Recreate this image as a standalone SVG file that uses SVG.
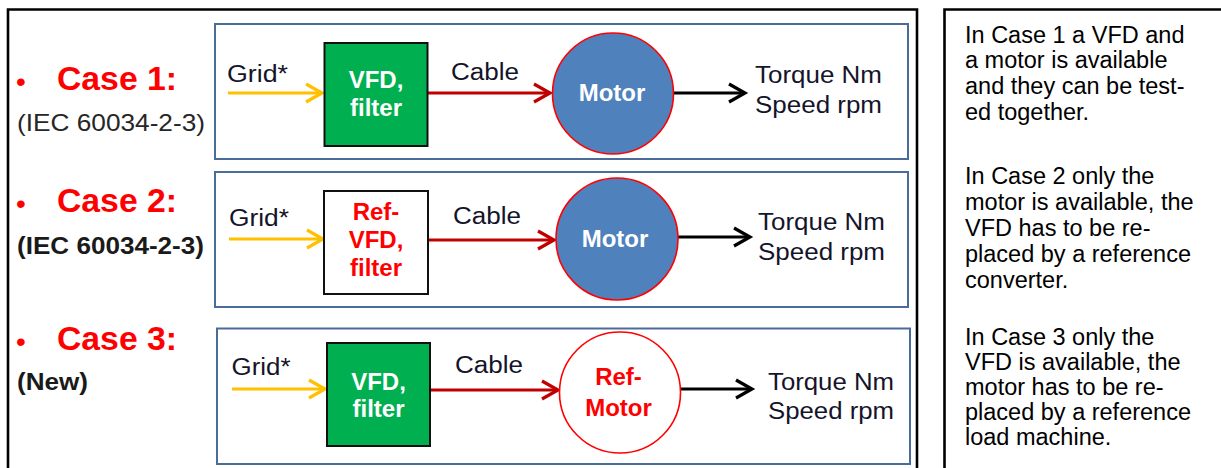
<svg xmlns="http://www.w3.org/2000/svg" width="1221" height="468" viewBox="0 0 1221 468">
<style>
text { font-family: "Liberation Sans", Arial, sans-serif; }
.frame { fill: none; stroke: #000; stroke-width: 2.6; }
.case-box { fill: #fff; stroke: #4A6C9B; stroke-width: 2; }
.vfd { fill: #00B050; stroke: #111; stroke-width: 2; }
.ref-vfd { fill: #fff; stroke: #111; stroke-width: 2; }
.motor { fill: #4F81BD; stroke: #FF0000; stroke-width: 1.6; }
.ref-motor { fill: #fff; stroke: #FF0000; stroke-width: 1.6; }
.case-title { font-size: 33px; font-weight: bold; fill: #FF0000; }
.bullet { font-size: 28px; fill: #FF0000; }
.std { font-size: 24px; fill: #262626; }
.std-b { font-size: 24px; font-weight: bold; fill: #1a1a1a; }
.lbl { font-size: 23.5px; fill: #14142a; }
.in-white { font-size: 24px; font-weight: bold; fill: #fff; text-anchor: middle; }
.in-red { font-size: 24px; font-weight: bold; fill: #FF0000; text-anchor: middle; }
.panel { font-size: 23.5px; fill: #000; }
.grid-arrow { stroke: #FFC000; stroke-width: 3; fill: none; marker-end: url(#ah-yellow); }
.cable-arrow { stroke: #C00000; stroke-width: 3; fill: none; marker-end: url(#ah-red); }
.out-arrow { stroke: #000; stroke-width: 3; fill: none; marker-end: url(#ah-black); }
</style>
<defs>
<marker id="ah-yellow" markerUnits="userSpaceOnUse" markerWidth="26" markerHeight="26" viewBox="0 0 26 26" refX="20" refY="13" orient="auto" overflow="visible">
<path d="M4,4 L20,13 L4,22" fill="none" stroke="#FFC000" stroke-width="3.2" stroke-linejoin="miter"/>
</marker>
<marker id="ah-red" markerUnits="userSpaceOnUse" markerWidth="26" markerHeight="26" viewBox="0 0 26 26" refX="20" refY="13" orient="auto" overflow="visible">
<path d="M4,4 L20,13 L4,22" fill="none" stroke="#C00000" stroke-width="3.2" stroke-linejoin="miter"/>
</marker>
<marker id="ah-black" markerUnits="userSpaceOnUse" markerWidth="26" markerHeight="26" viewBox="0 0 26 26" refX="20" refY="13" orient="auto" overflow="visible">
<path d="M4,4 L20,13 L4,22" fill="none" stroke="#000" stroke-width="3.2" stroke-linejoin="miter"/>
</marker>
</defs>

<rect x="0" y="0" width="1221" height="468" fill="#fff"/>

<g id="frames">
<path class="frame" d="M8,472 V9.5 H917 V472"/>
<path class="frame" d="M944.5,472 V9.5 H1225"/>
</g>

<g id="case1-label">
<text class="bullet" x="16" y="91">•</text>
<text class="case-title" x="57" y="89.5" textLength="120" lengthAdjust="spacingAndGlyphs">Case 1:</text>
<text class="std" x="17" y="131" textLength="188" lengthAdjust="spacingAndGlyphs">(IEC 60034-2-3)</text>
</g>
<g id="case2-label">
<text class="bullet" x="16" y="213">•</text>
<text class="case-title" x="57" y="211.5" textLength="120" lengthAdjust="spacingAndGlyphs">Case 2:</text>
<text class="std-b" x="17" y="253.5" textLength="187" lengthAdjust="spacingAndGlyphs">(IEC  60034-2-3)</text>
</g>
<g id="case3-label">
<text class="bullet" x="16" y="351">•</text>
<text class="case-title" x="57" y="349.5" textLength="120" lengthAdjust="spacingAndGlyphs">Case 3:</text>
<text class="std-b" x="17" y="390" textLength="71" lengthAdjust="spacingAndGlyphs">(New)</text>
</g>

<g id="case1-box"><rect class="case-box" x="215" y="24" width="693" height="135"/></g>
<g id="case2-box"><rect class="case-box" x="215" y="172" width="693" height="135"/></g>
<g id="case3-box"><rect class="case-box" x="217" y="328.5" width="693" height="135.5"/></g>

<g id="connectors">
<path class="grid-arrow" d="M228,93 H322"/>
<path class="cable-arrow" d="M428,93 H550"/>
<path class="out-arrow" d="M674,93 H745"/>
<path class="grid-arrow" d="M229,239 H323"/>
<path class="cable-arrow" d="M428,240 H554"/>
<path class="out-arrow" d="M678,237 H750"/>
<path class="grid-arrow" d="M232,389 H325"/>
<path class="cable-arrow" d="M430,390 H558"/>
<path class="out-arrow" d="M680,389 H752"/>
</g>

<g id="case1-grid"><text class="lbl" x="227" y="81.5" textLength="61" lengthAdjust="spacingAndGlyphs">Grid*</text></g>
<g id="case1-vfd">
<rect class="vfd" x="324.5" y="43" width="103" height="103"/>
<text class="in-white" x="376" y="88">VFD,</text>
<text class="in-white" x="376" y="116">filter</text>
</g>
<g id="case1-cable"><text class="lbl" x="451" y="79.5" textLength="68" lengthAdjust="spacingAndGlyphs">Cable</text></g>
<g id="case1-motor">
<circle class="motor" cx="613" cy="93.5" r="60.5"/>
<text class="in-white" x="612" y="100.5">Motor</text>
</g>
<g id="case1-output">
<text class="lbl" x="755" y="83" textLength="127" lengthAdjust="spacingAndGlyphs">Torque Nm</text>
<text class="lbl" x="755" y="113" textLength="127" lengthAdjust="spacingAndGlyphs">Speed rpm</text>
</g>

<g id="case2-grid"><text class="lbl" x="229" y="225.5" textLength="60" lengthAdjust="spacingAndGlyphs">Grid*</text></g>
<g id="case2-vfd">
<rect class="ref-vfd" x="324" y="191" width="104" height="103"/>
<text class="in-red" x="376" y="220">Ref-</text>
<text class="in-red" x="376" y="248">VFD,</text>
<text class="in-red" x="376" y="276">filter</text>
</g>
<g id="case2-cable"><text class="lbl" x="453" y="223.5" textLength="68" lengthAdjust="spacingAndGlyphs">Cable</text></g>
<g id="case2-motor">
<circle class="motor" cx="617" cy="239" r="61"/>
<text class="in-white" x="615" y="247">Motor</text>
</g>
<g id="case2-output">
<text class="lbl" x="758" y="230" textLength="127" lengthAdjust="spacingAndGlyphs">Torque Nm</text>
<text class="lbl" x="758" y="259.5" textLength="127" lengthAdjust="spacingAndGlyphs">Speed rpm</text>
</g>

<g id="case3-grid"><text class="lbl" x="231.5" y="375" textLength="59" lengthAdjust="spacingAndGlyphs">Grid*</text></g>
<g id="case3-vfd">
<rect class="vfd" x="327" y="343" width="103" height="103"/>
<text class="in-white" x="378.5" y="390">VFD,</text>
<text class="in-white" x="378.5" y="417">filter</text>
</g>
<g id="case3-cable"><text class="lbl" x="455" y="373" textLength="68" lengthAdjust="spacingAndGlyphs">Cable</text></g>
<g id="case3-motor">
<circle class="ref-motor" cx="620" cy="392.5" r="60.5"/>
<text class="in-red" x="618.5" y="385">Ref-</text>
<text class="in-red" x="618.5" y="416">Motor</text>
</g>
<g id="case3-output">
<text class="lbl" x="768" y="389.5" textLength="126" lengthAdjust="spacingAndGlyphs">Torque Nm</text>
<text class="lbl" x="768" y="418.5" textLength="126" lengthAdjust="spacingAndGlyphs">Speed rpm</text>
</g>

<g id="notes">
<text class="panel" x="965">
<tspan x="965" y="43">In Case 1 a VFD and</tspan>
<tspan x="965" y="68">a motor is available</tspan>
<tspan x="965" y="94">and they can be test-</tspan>
<tspan x="965" y="120">ed together.</tspan>
<tspan x="965" y="184">In Case 2 only the</tspan>
<tspan x="965" y="210">motor is available, the</tspan>
<tspan x="965" y="236">VFD has to be re-</tspan>
<tspan x="965" y="262">placed by a reference</tspan>
<tspan x="965" y="288">converter.</tspan>
<tspan x="965" y="345">In Case 3 only the</tspan>
<tspan x="965" y="370">VFD is available, the</tspan>
<tspan x="965" y="395">motor has to be re-</tspan>
<tspan x="965" y="420">placed by a reference</tspan>
<tspan x="965" y="445">load machine.</tspan>
</text>
</g>
</svg>
